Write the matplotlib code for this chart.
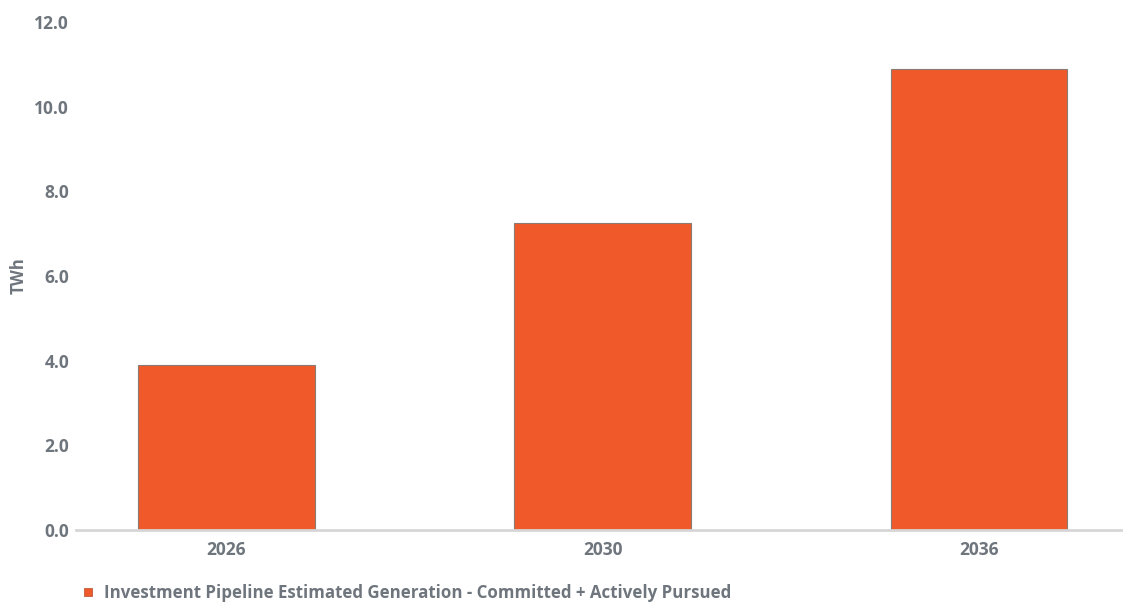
import matplotlib
matplotlib.use("Agg")
import matplotlib.pyplot as plt
from matplotlib.lines import Line2D

years = ["2026", "2030", "2036"]
generation_twh = [3.9, 7.25, 10.9]
y_ticks = [0.0, 2.0, 4.0, 6.0, 8.0, 10.0, 12.0]
series_name = "Investment Pipeline Estimated Generation - Committed + Actively Pursued"
y_label = "TWh"

bar_color = "#F05A2A"
text_color = "#6E757C"
axis_color = "#D6D6D6"

plt.rcParams["font.family"] = ["Open Sans", "DejaVu Sans"]

W, H = 1123, 603
fig = plt.figure(figsize=(W / 100, H / 100), dpi=100)
left, right = 76, 1123
top, bottom = 22, 530
ax = fig.add_axes([left / W, 1 - bottom / H, (right - left) / W, (bottom - top) / H])

x = range(len(years))
ax.bar(x, generation_twh, width=0.47, color=bar_color,
       edgecolor="#8A7A74", linewidth=0.8, zorder=2)

ax.set_xlim(-0.4, 2.383)
ax.set_ylim(0, 12)
ax.set_yticks(y_ticks)
ax.set_yticklabels([f"{v:.1f}" for v in y_ticks])
ax.set_xticks(list(x))
ax.set_xticklabels(years)

for side in ("top", "right", "left"):
    ax.spines[side].set_visible(False)
ax.spines["bottom"].set_color(axis_color)
ax.spines["bottom"].set_linewidth(2)

ax.tick_params(axis="both", length=0, labelsize=12.5, labelcolor=text_color)
ax.tick_params(axis="x", pad=8)
ax.tick_params(axis="y", pad=5)
for lab in ax.get_xticklabels() + ax.get_yticklabels():
    lab.set_fontweight("bold")

ax.set_ylabel(y_label, color=text_color, fontsize=12, fontweight="bold", labelpad=5)

handle = Line2D([], [], marker="s", linestyle="none", markersize=6,
                markerfacecolor=bar_color, markeredgecolor="#B04A2A", markeredgewidth=0.5)
fig.legend([handle], [series_name], loc="center left",
           bbox_to_anchor=(82 / W, 1 - 593 / H), frameon=False,
           handlelength=0.7, handletextpad=0.6, borderaxespad=0, borderpad=0,
           prop={"size": 12.2, "weight": "bold"}, labelcolor=text_color)

fig.savefig("out.png", dpi=100, facecolor="white")
